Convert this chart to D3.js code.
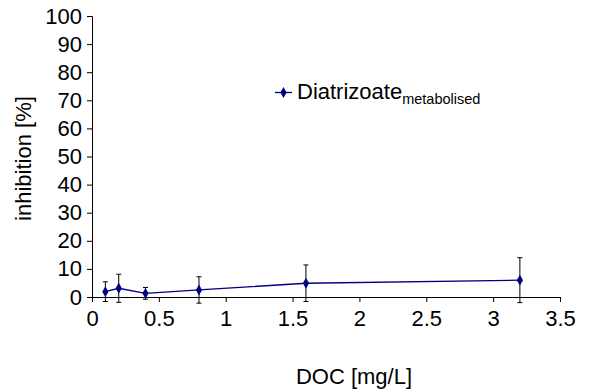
<!DOCTYPE html>
<html>
<head>
<meta charset="utf-8">
<script src="https://cdn.jsdelivr.net/npm/d3@7"></script>
<style>
  body { margin: 0; background: #fff; }
  text { font-family: 'Liberation Sans', Arial, Helvetica, sans-serif; fill: #000; }
</style>
</head>
<body>
<div id="chart"></div>
<script>
const doc = [0.1, 0.2, 0.4, 0.8, 1.6, 3.2]
const inhibition = [1.9, 3.1, 1.3, 2.5, 4.9, 6.0]
const errors = [3.5, 5, 2.1, 4.7, 6.5, 8]
const xTicks = [0, 0.5, 1, 1.5, 2, 2.5, 3, 3.5]
const yTicks = [0, 10, 20, 30, 40, 50, 60, 70, 80, 90, 100]

const width = 589
const height = 391
const margin = { top: 16, left: 92, right: 29, bottom: 94 }
const fontSize = '22px'

const svg = d3.select('#chart')
  .append('svg')
  .attr('width', width)
  .attr('height', height)

const x = d3.scaleLinear().domain([0, 3.5]).range([margin.left, width - margin.right])
const y = d3.scaleLinear().domain([0, 100]).range([height - margin.bottom, margin.top])

const xAxis = svg.append('g')
  .attr('transform', `translate(0,${y(0)})`)
  .call(d3.axisBottom(x).tickValues(xTicks).tickSize(5).tickPadding(8)
    .tickFormat(d => d))
xAxis.selectAll('text').style('font-size', fontSize)

const yAxis = svg.append('g')
  .attr('transform', `translate(${x(0)},0)`)
  .call(d3.axisLeft(y).tickValues(yTicks).tickSize(5).tickPadding(5))
yAxis.selectAll('text').style('font-size', fontSize)

svg.selectAll('.domain, .tick line').attr('stroke', '#000').attr('stroke-width', 1)

// error bars
const bars = svg.append('g')
doc.forEach((d, i) => {
  const cx = x(d)
  const top = y(inhibition[i] + errors[i])
  const bot = y(inhibition[i] - errors[i])
  bars.append('line').attr('x1', cx).attr('x2', cx).attr('y1', top).attr('y2', bot)
    .attr('stroke', '#000').attr('stroke-width', 1)
  bars.append('line').attr('x1', cx - 2.5).attr('x2', cx + 2.5).attr('y1', top).attr('y2', top)
    .attr('stroke', '#000').attr('stroke-width', 1)
  bars.append('line').attr('x1', cx - 2.5).attr('x2', cx + 2.5).attr('y1', bot).attr('y2', bot)
    .attr('stroke', '#000').attr('stroke-width', 1)
})

const line = d3.line()
  .x((d, i) => x(doc[i]))
  .y(d => y(d))

svg.append('path')
  .datum(inhibition)
  .attr('d', line)
  .attr('fill', 'none')
  .attr('stroke', '#000080')
  .attr('stroke-width', 1.3)

const diamond = d3.symbol().type(d3.symbolDiamond).size(34)
svg.selectAll('.pt')
  .data(inhibition)
  .enter()
  .append('path')
  .attr('class', 'pt')
  .attr('d', diamond)
  .attr('transform', (d, i) => `translate(${x(doc[i])},${y(d)})`)
  .attr('fill', '#000080')

// legend
const leg = svg.append('g')
leg.append('line').attr('x1', 275).attr('x2', 292).attr('y1', 92.5).attr('y2', 92.5)
  .attr('stroke', '#000080').attr('stroke-width', 1.3)
leg.append('path').attr('d', diamond).attr('transform', 'translate(283.5,92.5)').attr('fill', '#000080')
const legText = leg.append('text').attr('x', 297).attr('y', 99).style('font-size', fontSize)
legText.append('tspan').text('Diatrizoate')
legText.append('tspan').attr('dy', 5).style('font-size', '14.5px').text('metabolised')

svg.append('text')
  .attr('transform', `translate(31,${(y(0) + y(100)) / 2 + 2}) rotate(-90)`)
  .attr('text-anchor', 'middle')
  .style('font-size', fontSize)
  .text('inhibition [%]')

svg.append('text')
  .attr('x', 354)
  .attr('y', 384)
  .attr('text-anchor', 'middle')
  .style('font-size', fontSize)
  .text('DOC [mg/L]')
</script>
</body>
</html>
